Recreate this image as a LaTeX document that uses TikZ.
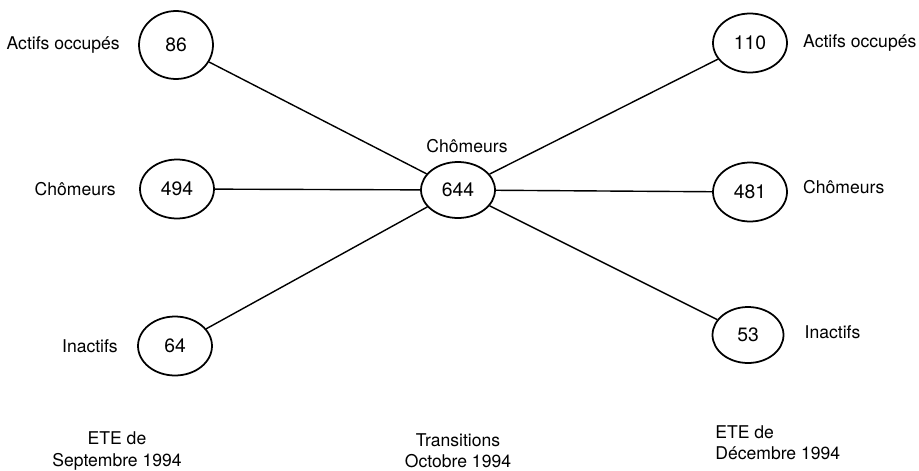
\documentclass[tikz,border=0pt]{standalone}
\usepackage{fontspec}
\setmainfont{TeX Gyre Heros}
\usetikzlibrary{positioning, shapes.geometric}

\tikzset{
  stock/.style={ellipse, draw, line width=1pt, minimum width=1.48cm,
    minimum height=1.18cm, inner sep=0pt, font=\fontsize{11}{13}\selectfont},
  lbl/.style={inner sep=0pt, font=\fontsize{10}{12}\selectfont},
  flow/.style={line width=0.8pt}
}

\begin{document}
\begin{tikzpicture}[x=0.02cm, y=-0.02cm, node distance=0.36cm]
    \useasboundingbox (0,0) rectangle (919,470);
    % ETE de septembre
    \node[stock, minimum height=1.36cm] (sepA) at (176,45) {86};
    \node[stock] (sepC) at (177,189) {494};
    \node[stock] (sepI) at (175,346) {64};
    \node[lbl] (sepAl) [left=of sepA] {Actifs occupés};
    \node[lbl] (sepCl) [left=0.46cm of sepC] {Chômeurs};
    \node[lbl] (sepIl) [left=0.38cm of sepI] {Inactifs};
    % transitions d'octobre
    \node[stock, minimum height=1.12cm] (oct) at (458,190) {644};
    \node[lbl] (octl) [above=0.16cm of oct, xshift=0.18cm] {Chômeurs};
    % ETE de decembre
    \node[stock] (decA) at (750,43) {110};
    \node[stock] (decC) at (750,192) {481};
    \node[stock, minimum width=1.42cm, minimum height=1.12cm] (decI) at (748,335) {53};
    \node[lbl] (decAl) [right=0.3cm of decA] {Actifs occupés};
    \node[lbl] (decCl) [right=0.3cm of decC, yshift=0.1cm] {Chômeurs};
    \node[lbl] (decIl) [right=0.4cm of decI, yshift=0.06cm] {Inactifs};
    % legendes du bas
    \node[lbl, align=center] (sepT) at (117,451) {ETE de\\Septembre 1994};
    \node[lbl, align=center] (octT) at (458,451) {Transitions\\Octobre 1994};
    \node[lbl, align=left, anchor=west] (decT) at (715,443) {ETE de\\Décembre 1994};
    \path[flow]
      (sepA) edge (oct)
      (sepC) edge (oct)
      (sepI) edge (oct)
      (oct) edge (decA)
      (oct) edge (decC)
      (oct) edge (decI);
\end{tikzpicture}
\end{document}
